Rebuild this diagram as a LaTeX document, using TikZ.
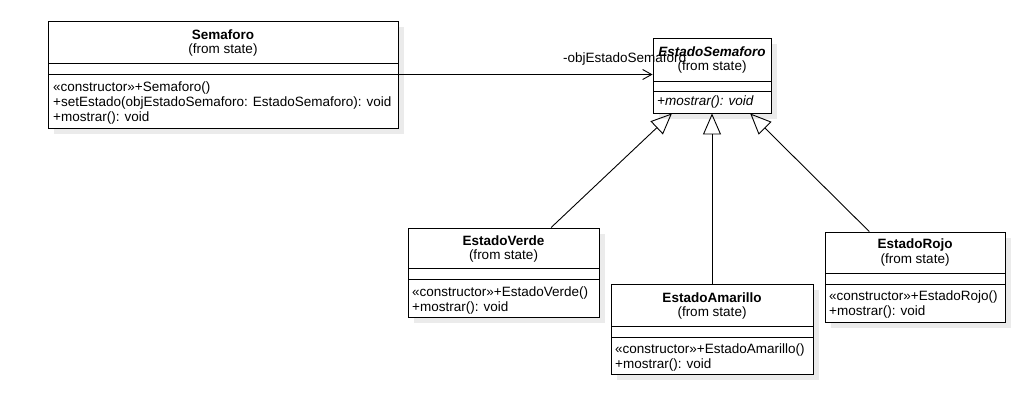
\documentclass[tikz,border=0pt]{standalone}
\usepackage{fontspec}
\setmainfont{Liberation Sans}
\usetikzlibrary{arrows.meta}
\tikzset{
  shadowc/.style={fill=black!8},
  clsbox/.style={draw=black, fill=white, line width=0.9pt, inner sep=0pt},
  sepline/.style={draw=black, line width=0.9pt},
  txt/.style={inner sep=0pt, font=\fontsize{13.5}{15}\selectfont},
  titletxt/.style={txt, font=\fontsize{13.5}{15}\selectfont\bfseries},
  methtxt/.style={txt, anchor=north west, align=left},
  inh/.style={draw=black, line width=0.9pt, -{Triangle[open, length=21pt, width=18pt]}},
  assoc/.style={draw=black, line width=0.9pt, -{Straight Barb[length=9pt, width=10pt]}},
}
% #1 name, #2 x1, #3 y1, #4 x2, #5 y2, #6 line1, #7 line2
\newcommand\umlbox[7]{%
  \fill[shadowc] (#2+6,#3+6) rectangle (#4+6,#5+6);
  \node[clsbox, minimum width={#4-#2}, minimum height={#5-#3}] (#1) at ({(#2+#4)/2},{(#3+#5)/2}) {};
  \draw[sepline] (#2,#6) -- (#4,#6);
  \draw[sepline] (#2,#7) -- (#4,#7);
}
\begin{document}
\begin{tikzpicture}[x=1pt, y=-1pt]
\useasboundingbox (0,0) rectangle (1030,400);

% Semaforo
\umlbox{semaforo}{48}{21}{398}{128}{63}{74}
\node[titletxt] (semaforoT) at (223,35) {Semaforo};
\node[txt] (semaforoF) at (223,50) {(from state)};
\node[methtxt] (semaforoM) at (53,82) {«constructor»+Semaforo()\\+setEstado(objEstadoSemaforo: EstadoSemaforo): void\\+mostrar(): void};

% EstadoSemaforo
\umlbox{esem}{653}{38}{771}{113}{81}{91}
\node[titletxt, font=\fontsize{13.5}{15}\selectfont\bfseries\itshape] (esemT) at (712,52) {EstadoSemaforo};
\node[txt] (esemF) at (712,67) {(from state)};
\node[methtxt, font=\fontsize{13.5}{15}\selectfont\itshape] (esemM) at (657,96) {+mostrar(): void};

% EstadoVerde
\umlbox{verde}{408}{228}{599}{317}{268}{279}
\node[titletxt] (verdeT) at (503.5,241) {EstadoVerde};
\node[txt] (verdeF) at (503.5,256) {(from state)};
\node[methtxt] (verdeM) at (412,287) {«constructor»+EstadoVerde()\\+mostrar(): void};

% EstadoAmarillo
\umlbox{amarillo}{611}{284}{813}{374}{326}{337}
\node[titletxt] (amarilloT) at (712,298) {EstadoAmarillo};
\node[txt] (amarilloF) at (712,313) {(from state)};
\node[methtxt] (amarilloM) at (615,344) {«constructor»+EstadoAmarillo()\\+mostrar(): void};

% EstadoRojo
\umlbox{rojo}{825}{232}{1005}{322}{273}{284}
\node[titletxt] (rojoT) at (915,245) {EstadoRojo};
\node[txt] (rojoF) at (915,260) {(from state)};
\node[methtxt] (rojoM) at (829,291) {«constructor»+EstadoRojo()\\+mostrar(): void};

% connectors
\draw[assoc] (semaforo.east) -- (semaforo.east -| esem.west)
  node[txt, pos=1, anchor=west, xshift=-90pt, yshift=15pt] (assocL) {-objEstadoSemaforo};
\draw[inh] (verde) -- (esem);
\draw[inh] (amarillo.north) -- (amarillo.north |- esem.south);
\draw[inh] (rojo) -- (esem);
\end{tikzpicture}
\end{document}
